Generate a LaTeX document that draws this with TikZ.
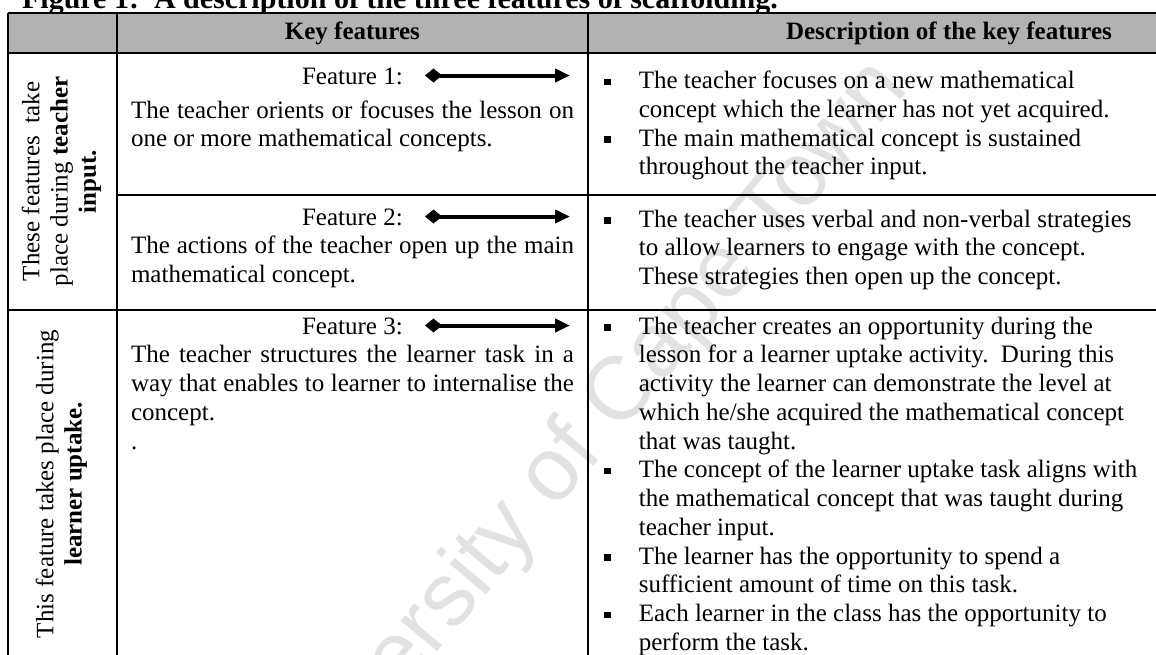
\documentclass[tikz,border=0pt]{standalone}
\usepackage{fontspec}
\setmainfont{Liberation Serif}
\newfontfamily\wmfont{Liberation Sans}
\usetikzlibrary{arrows.meta}
\definecolor{hdrgray}{RGB}{178,178,178}
\definecolor{wmgray}{RGB}{226,226,226}
\frenchspacing
\newcommand\tline[4]{\node[txt,anchor=base west] (#1) at (#2,#3) {#4};}
\newcommand\jline[4]{\node[txt,anchor=base west] (#1) at (#2,#3) {\makebox[221.5pt][s]{#4}};}
\newcommand\bulat[3]{\node[bul] (#1) at (#2,#3) {};}
\begin{document}
\begin{tikzpicture}[x=0.5pt,y=-0.5pt,
  txt/.style={inner sep=0pt, outer sep=0pt, font=\fontsize{12.5}{14.4}\selectfont},
  hdr/.style={inner sep=0pt, outer sep=0pt, font=\fontsize{12.5}{14.4}\selectfont\bfseries},
  rule/.style={line width=1pt},
  featarrow/.style={line width=2pt, {Diamond[length=8.5pt,width=7pt]}-{Triangle[length=7.5pt,width=6.5pt]}},
  bul/.style={fill=black, minimum size=3.1pt, inner sep=0pt, draw=none}
]
\useasboundingbox (0,0) rectangle (1156,654);
\clip (0,0) rectangle (1156,654);
% watermark
\node[font=\wmfont\fontsize{45}{45}\selectfont, text=wmgray, rotate=50, inner sep=0pt] (wm) at (580,446) {University of Cape Town};
% title
\node[font=\fontsize{15}{15}\selectfont\bfseries, anchor=base west, inner sep=0pt] (title) at (21.7,8) {Figure 1:\ \ A description of the three features of scaffolding.};
% header and grid
\fill[hdrgray] (8.4,13) rectangle (1310,53);
\draw[rule] (8.4,13) -- (1310,13);
\draw[rule] (8.4,53) -- (1310,53);
\draw[rule] (116.7,195) -- (1310,195);
\draw[rule] (8.4,310) -- (1310,310);
\draw[rule] (8.4,13) -- (8.4,660);
\draw[rule] (116.7,13) -- (116.7,660);
\draw[rule] (588,13) -- (588,660);
\draw[rule] (1310,13) -- (1310,660);
\node[hdr, anchor=base] (h2) at (352.4,39) {Key features};
\node[hdr, anchor=base] (h3) at (949,39) {Description of the key features};
% column 1
\node[txt, rotate=90, anchor=base] (c1a) at (39.3,181.5) {These features\ \ take};
\node[txt, rotate=90, anchor=base] (c1b) at (67.6,181.5) {place during \textbf{teacher}};
\node[txt, rotate=90, anchor=base] (c1c) at (95.9,181.5) {\textbf{input.}};
\node[txt, rotate=90, anchor=base] (c2a) at (53.4,484) {This feature takes place during};
\node[txt, rotate=90, anchor=base] (c2b) at (81.7,484) {\textbf{learner uptake.}};
% column 2, row 1
\node[txt, anchor=base] (f1) at (352.4,84) {Feature 1:};
\coordinate (a1s) at (425,75.5);
\coordinate (a1e) at (570,75.5);
\draw[featarrow] (a1s) -- (a1e);
\jline{r1a}{131}{118}{The teacher orients or focuses the lesson on}
\tline{r1b}{131}{146.5}{one or more mathematical concepts.}
% column 2, row 2
\node[txt, anchor=base] (f2) at (352.4,225) {Feature 2:};
\coordinate (a2s) at (425,216.5);
\coordinate (a2e) at (570,216.5);
\draw[featarrow] (a2s) -- (a2e);
\jline{r2a}{131}{253.75}{The actions of the teacher open up the main}
\tline{r2b}{131}{282.5}{mathematical concept.}
% column 2, row 3
\node[txt, anchor=base] (f3) at (352.4,334) {Feature 3:};
\coordinate (a3s) at (425,325.5);
\coordinate (a3e) at (570,325.5);
\draw[featarrow] (a3s) -- (a3e);
\jline{r3a}{131}{362.75}{The teacher structures the learner task in a}
\jline{r3b}{131}{391.5}{way that enables to learner to internalise the}
\tline{r3c}{131}{420.25}{concept.}
\tline{r3d}{131}{449}{.}
% column 3, row 1
\bulat{b1}{607.5}{82}
\tline{d1a}{638.8}{88.5}{The teacher focuses on a new mathematical}
\tline{d1b}{638.8}{117.25}{concept which the learner has not yet acquired.}
\bulat{b2}{607.5}{139.5}
\tline{d1c}{638.8}{146}{The main mathematical concept is sustained}
\tline{d1d}{638.8}{174.75}{throughout the teacher input.}
% column 3, row 2
\bulat{b3}{607.5}{220.5}
\tline{d2a}{638.8}{227}{The teacher uses verbal and non-verbal strategies}
\tline{d2b}{638.8}{255.75}{to allow learners to engage with the concept.}
\tline{d2c}{638.8}{284.5}{These strategies then open up the concept.}
% column 3, row 3
\bulat{b4}{607.5}{327.5}
\tline{d3a}{638.8}{334}{The teacher creates an opportunity during the}
\tline{d3b}{638.8}{362.75}{lesson for a learner uptake activity.\ \ During this}
\tline{d3c}{638.8}{391.5}{activity the learner can demonstrate the level at}
\tline{d3d}{638.8}{420.25}{which he/she acquired the mathematical concept}
\tline{d3e}{638.8}{449}{that was taught.}
\bulat{b5}{607.5}{471.25}
\tline{d3f}{638.8}{477.75}{The concept of the learner uptake task aligns with}
\tline{d3g}{638.8}{506.5}{the mathematical concept that was taught during}
\tline{d3h}{638.8}{535.25}{teacher input.}
\bulat{b6}{607.5}{557.5}
\tline{d3i}{638.8}{564}{The learner has the opportunity to spend a}
\tline{d3j}{638.8}{592.75}{sufficient amount of time on this task.}
\bulat{b7}{607.5}{615}
\tline{d3k}{638.8}{621.5}{Each learner in the class has the opportunity to}
\tline{d3l}{638.8}{650.25}{perform the task.}
\end{tikzpicture}
\end{document}
